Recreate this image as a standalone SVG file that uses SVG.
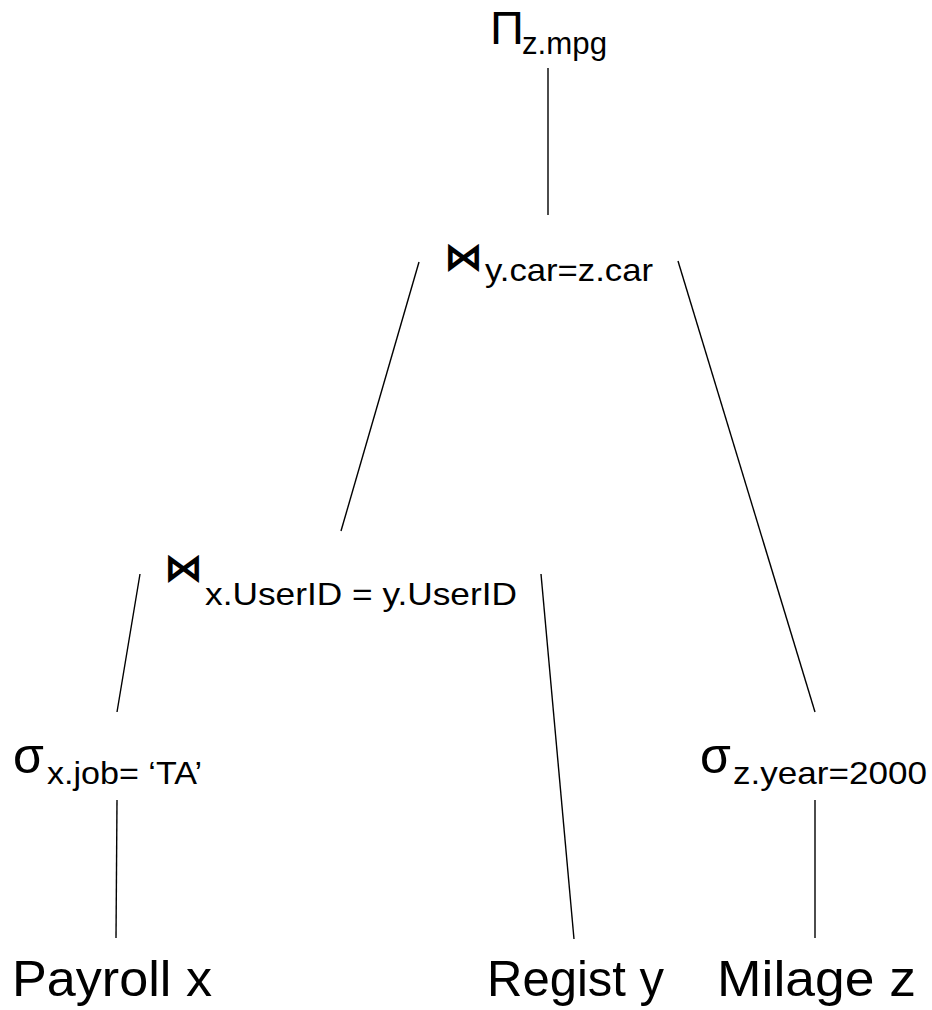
<svg xmlns="http://www.w3.org/2000/svg" width="932" height="1010" viewBox="0 0 932 1010">
<style>
.t{font-family:"Liberation Sans",Arial,sans-serif;fill:#000}
.sym{font-family:"DejaVu Sans",sans-serif;fill:#000;font-weight:bold}
.sub{font-size:32px}
.leaf{font-size:50px}
.e{stroke:#000;stroke-width:1.4;fill:none}
</style>
<rect width="932" height="1010" fill="#fff"/>
<g id="connectors">
<line class="e" x1="548" y1="68" x2="548" y2="215"/>
<line class="e" x1="419" y1="262" x2="341" y2="531"/>
<line class="e" x1="678" y1="261" x2="815" y2="712"/>
<line class="e" x1="140" y1="574" x2="117" y2="712"/>
<line class="e" x1="541" y1="574" x2="574" y2="939"/>
<line class="e" x1="117" y1="800" x2="116" y2="938"/>
<line class="e" x1="815" y1="800" x2="815" y2="938"/>
</g>
<g id="project">
<text class="t" x="490" y="44" font-size="47">Π</text>
<text class="t sub" x="522" y="54" textLength="85" lengthAdjust="spacingAndGlyphs">z.mpg</text>
</g>
<g id="join1">
<text class="sym" x="444" y="270" font-size="39">⋈</text>
<text class="t sub" x="485" y="281" textLength="168" lengthAdjust="spacingAndGlyphs">y.car=z.car</text>
</g>
<g id="join2">
<text class="sym" x="164" y="581" font-size="39">⋈</text>
<text class="t sub" x="205" y="605" textLength="312" lengthAdjust="spacingAndGlyphs">x.UserID = y.UserID</text>
</g>
<g id="select1">
<text class="t" x="13" y="773" font-size="50">σ</text>
<text class="t sub" x="47" y="784" textLength="155" lengthAdjust="spacingAndGlyphs">x.job= ‘TA’</text>
</g>
<g id="select2">
<text class="t" x="700" y="773" font-size="50">σ</text>
<text class="t sub" x="733" y="784" textLength="194" lengthAdjust="spacingAndGlyphs">z.year=2000</text>
</g>
<g id="payroll">
<text class="t leaf" x="12" y="996" textLength="200" lengthAdjust="spacingAndGlyphs">Payroll x</text>
</g>
<g id="regist">
<text class="t leaf" x="487" y="996" textLength="177" lengthAdjust="spacingAndGlyphs">Regist y</text>
</g>
<g id="milage">
<text class="t leaf" x="717" y="996" textLength="199" lengthAdjust="spacingAndGlyphs">Milage z</text>
</g>
</svg>
